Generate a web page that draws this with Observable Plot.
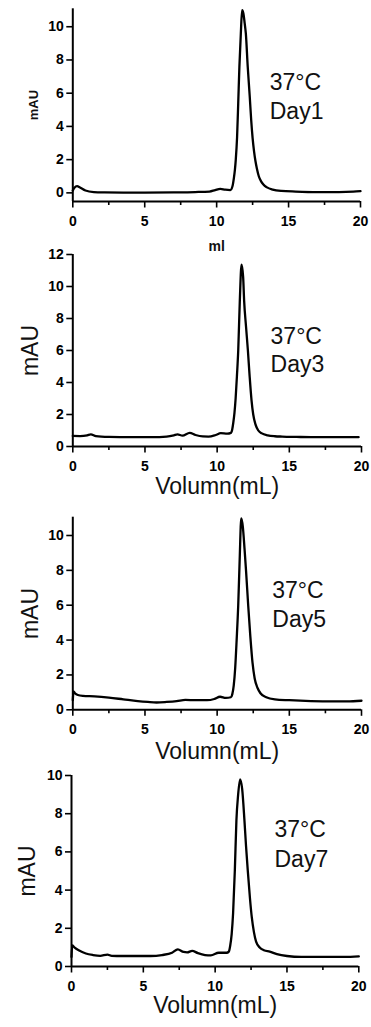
<!DOCTYPE html>
<html><head><meta charset="utf-8">
<script src="https://cdn.jsdelivr.net/npm/d3@7"></script>
<script src="https://cdn.jsdelivr.net/npm/@observablehq/plot@0.6"></script>
<style>
body{margin:0;background:#fff;}
#wrap{position:relative;width:371px;height:1027px;background:#fff;overflow:hidden;}
#wrap svg{position:absolute;left:0;}
</style></head><body><div id="wrap"></div>
<script>
// ---- data ----
const xTicks = [0, 5, 10, 15, 20];
const xMinorTicks = [2.5, 7.5, 12.5, 17.5];
const tempLabel = "37°C";
const dayLabels = ["Day1", "Day3", "Day5", "Day7"];
const xTitles = ["ml", "Volumn(mL)", "Volumn(mL)", "Volumn(mL)"];
const yTitle = "mAU";
const yTicks1 = [0, 2, 4, 6, 8, 10];
const yTicks2 = [0, 2, 4, 6, 8, 10, 12];
const yTicks3 = [0, 2, 4, 6, 8, 10];
const yTicks4 = [0, 2, 4, 6, 8, 10];

const day1Vol = [0, 0.1, 0.3, 0.5, 0.88, 1.46, 2.2, 3.5, 5, 7, 8.5, 9.5, 9.9, 10.25, 10.6, 10.95, 11.1, 11.2, 11.27, 11.33, 11.42, 11.5, 11.58, 11.68, 11.77, 11.86, 11.95, 12.03, 12.16, 12.3, 12.4, 12.5, 12.6, 12.7, 12.8, 12.93, 13.1, 13.25, 13.5, 13.9, 14.5, 15.5, 17, 18.5, 19.5, 20];
const day1Abs = [0.14, 0.3, 0.4, 0.32, 0.14, 0.05, 0.03, 0.02, 0.02, 0.03, 0.05, 0.08, 0.17, 0.24, 0.19, 0.17, 0.4, 0.9, 1.4, 2.0, 3.35, 5.4, 7.57, 9.58, 11.0, 10.8, 10.2, 9.58, 7.6, 5.8, 4.4, 3.3, 2.5, 1.9, 1.45, 1.0, 0.68, 0.5, 0.33, 0.2, 0.12, 0.08, 0.05, 0.05, 0.07, 0.1];

const day3Vol = [0, 0.5, 1.0, 1.25, 1.6, 2.5, 4, 5.5, 6.5, 7.0, 7.25, 7.6, 8.1, 8.5, 9.0, 9.4, 9.9, 10.25, 10.7, 10.95, 11.05, 11.12, 11.2, 11.28, 11.37, 11.46, 11.57, 11.69, 11.8, 11.87, 12.0, 12.13, 12.25, 12.38, 12.5, 12.65, 12.85, 13.1, 13.5, 14.0, 14.5, 15.5, 17, 18.5, 19.8];
const day3Abs = [0.66, 0.65, 0.7, 0.76, 0.65, 0.6, 0.58, 0.58, 0.62, 0.7, 0.76, 0.68, 0.85, 0.72, 0.63, 0.62, 0.72, 0.83, 0.8, 0.85, 1.1, 1.5, 2.1, 3.0, 4.4, 6.0, 9.1, 11.37, 10.6, 9.1, 7.5, 6.0, 4.4, 2.9, 2.0, 1.4, 1.0, 0.82, 0.7, 0.64, 0.62, 0.6, 0.58, 0.58, 0.58];

const day5Vol = [0, 0.05, 0.15, 0.35, 0.7, 1.5, 2.5, 3.5, 4.5, 5.2, 5.8, 6.5, 7.2, 7.8, 8.5, 9.3, 9.8, 10.2, 10.6, 10.95, 11.05, 11.15, 11.25, 11.35, 11.46, 11.56, 11.67, 11.78, 11.9, 12.0, 12.15, 12.3, 12.45, 12.6, 12.8, 13.0, 13.4, 14.0, 15.0, 16.5, 18, 19, 20];
const day5Abs = [0.55, 1.05, 0.95, 0.85, 0.8, 0.77, 0.7, 0.6, 0.5, 0.45, 0.42, 0.45, 0.5, 0.57, 0.55, 0.55, 0.62, 0.75, 0.68, 0.72, 0.9, 1.4, 2.4, 4.0, 6.0, 8.6, 10.98, 10.5, 9.2, 8.0, 6.0, 4.2, 2.7, 1.8, 1.25, 0.95, 0.72, 0.6, 0.55, 0.5, 0.48, 0.48, 0.52];

const day7Vol = [0, 0.05, 0.2, 0.5, 1.0, 1.5, 2.0, 2.5, 2.8, 3.5, 4.5, 5.5, 6.3, 7.0, 7.4, 7.8, 8.05, 8.4, 8.8, 9.3, 9.7, 10.25, 10.8, 10.95, 11.05, 11.15, 11.25, 11.37, 11.48, 11.6, 11.74, 11.88, 12.04, 12.15, 12.27, 12.42, 12.55, 12.7, 12.85, 13.1, 13.4, 13.8, 14.3, 15, 16, 17.5, 19, 20];
const day7Abs = [0.5, 1.1, 1.0, 0.85, 0.68, 0.6, 0.56, 0.62, 0.56, 0.55, 0.55, 0.55, 0.6, 0.72, 0.9, 0.76, 0.74, 0.82, 0.7, 0.6, 0.58, 0.72, 0.72, 0.78, 1.1, 1.7, 2.8, 5.03, 7.64, 9.0, 9.8, 9.3, 7.64, 6.3, 5.03, 3.6, 2.58, 1.8, 1.3, 1.0, 0.85, 0.78, 0.65, 0.55, 0.5, 0.5, 0.5, 0.53];

// ---- layout ----
const FONT = "'Liberation Sans', Arial, Helvetica, sans-serif";
const panels = [
  {vol: day1Vol, abs: day1Abs, yTicks: yTicks1, yDomain: [-0.52, 11.08], top: 0, height: 258, mt: 8.3, mb: 57, ml: 72.3, mr: 11,
   xTitleSize: 14, xTitleWeight: "bold", xTitleDy: 45, yTitleSize: 13, yTitleWeight: "bold", yTitleDx: -39,
   annX: 13.69, annY1: 6.65, annY2: 4.92},
  {vol: day3Vol, abs: day3Abs, yTicks: yTicks2, yDomain: [0, 12], top: 244, height: 264, mt: 10, mb: 62, ml: 72.3, mr: 10,
   xTitleSize: 23, xTitleWeight: "normal", xTitleDy: 40.5, yTitleSize: 23, yTitleWeight: "normal", yTitleDx: -42,
   annX: 13.7, annY1: 6.87, annY2: 5.11},
  {vol: day5Vol, abs: day5Abs, yTicks: yTicks3, yDomain: [0, 11.05], top: 505, height: 268, mt: 11.7, mb: 63.7, ml: 72.3, mr: 10,
   xTitleSize: 23, xTitleWeight: "normal", xTitleDy: 42, yTitleSize: 23, yTitleWeight: "normal", yTitleDx: -42,
   annX: 13.82, annY1: 6.84, annY2: 5.17},
  {vol: day7Vol, abs: day7Abs, yTicks: yTicks4, yDomain: [0, 10], top: 765, height: 262, mt: 10, mb: 61, ml: 71, mr: 12.7,
   xTitleSize: 23, xTitleWeight: "normal", xTitleDy: 39, yTitleSize: 23, yTitleWeight: "normal", yTitleDx: -43.5,
   annX: 14.13, annY1: 7.16, annY2: 5.59}
];

const wrap = document.getElementById("wrap");
panels.forEach((p, i) => {
  const data = p.vol.map((v, k) => ({vol: v, abs: p.abs[k]}));
  const chart = Plot.plot({
    width: 371,
    height: p.height,
    marginTop: p.mt, marginBottom: p.mb, marginLeft: p.ml, marginRight: p.mr,
    x: {domain: [0, 20]},
    y: {domain: p.yDomain},
    style: {background: "transparent", fontFamily: FONT, fontSize: "14px", fontWeight: "bold", color: "black", overflow: "visible"},
    marks: [
      Plot.axisX({ticks: xMinorTicks, tickSize: 4, tickFormat: () => "", label: null, strokeWidth: 1.6}),
      Plot.axisX({ticks: xTicks, tickSize: 6.5, tickPadding: 8, label: null, strokeWidth: 1.6, fontSize: 14, fontWeight: "bold"}),
      Plot.axisY({ticks: p.yTicks, tickSize: 6, tickPadding: 3, label: null, strokeWidth: 1.6, fontSize: 14, fontWeight: "bold"}),
      Plot.ruleX([0], {stroke: "black", strokeWidth: 2}),
      Plot.ruleY([p.yDomain[0]], {stroke: "black", strokeWidth: 2}),
      Plot.line(data, {x: "vol", y: "abs", stroke: "black", strokeWidth: 2.3, curve: "monotone-x"}),
      Plot.text([{x: p.annX, y: p.annY1, t: tempLabel}], {x: "x", y: "y", text: "t", textAnchor: "start", lineAnchor: "middle", fontSize: 23, fontWeight: "normal", fill: "#111"}),
      Plot.text([{x: p.annX, y: p.annY2, t: dayLabels[i]}], {x: "x", y: "y", text: "t", textAnchor: "start", lineAnchor: "middle", fontSize: 23, fontWeight: "normal", fill: "#111"}),
      Plot.text([xTitles[i]], {frameAnchor: "bottom", dy: p.xTitleDy, textAnchor: "middle", lineAnchor: "middle", fontSize: p.xTitleSize, fontWeight: p.xTitleWeight, fill: "#111"}),
      Plot.text([yTitle], {frameAnchor: "left", dx: p.yTitleDx, rotate: -90, textAnchor: "middle", lineAnchor: "middle", fontSize: p.yTitleSize, fontWeight: p.yTitleWeight, fill: "#111"})
    ]
  });
  chart.style.top = p.top + "px";
  wrap.appendChild(chart);
});
</script>
</body></html>
